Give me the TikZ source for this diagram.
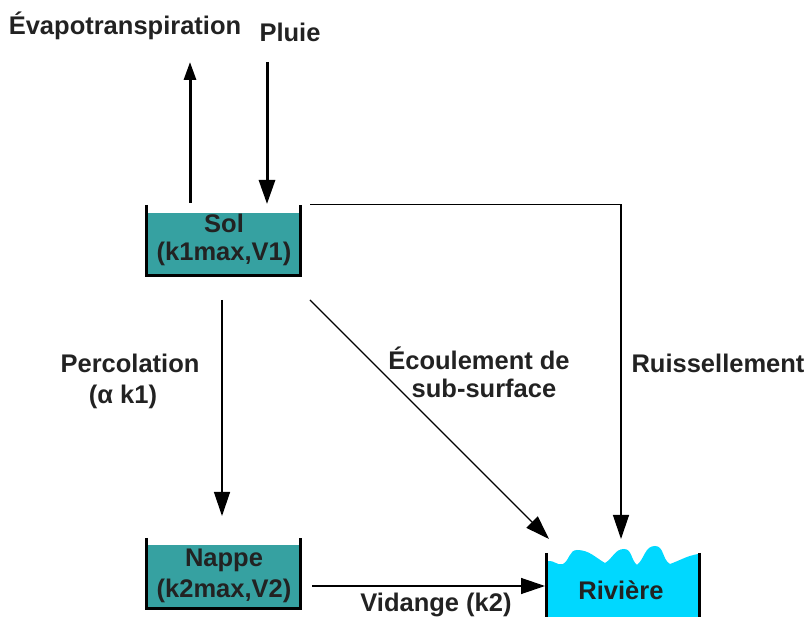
\documentclass[tikz,border=0pt]{standalone}
\usepackage{fontspec}
\setmainfont{Liberation Sans}
\usetikzlibrary{arrows.meta}
\definecolor{txt}{HTML}{222222}
\definecolor{teal2}{HTML}{36A1A1}
\definecolor{cyan2}{HTML}{00D8FF}
\begin{document}
\begin{tikzpicture}[x=1pt,y=-1pt,
  lbl/.style={font=\fontsize{25.5}{29}\selectfont\bfseries, text=txt, inner sep=0pt, anchor=base},
  wall/.style={line width=3pt, line cap=butt, line join=miter},
  thin/.style={line width=1.3pt, black},
  thick2/.style={line width=3pt, black},
  hd/.style={-{Triangle[length=24pt,width=16pt]}},
  hdsmall/.style={-{Triangle[length=18pt,width=12pt]}}]
\useasboundingbox (0,0) rectangle (807,617);

% Sol tank
\fill[teal2] (148,213) rectangle (299,274);
\draw[wall] (146.5,205) -- (146.5,275.5) -- (300.5,275.5) -- (300.5,205);
\node[lbl] (sol1) at (224,233) {Sol};
\node[lbl] (sol2) at (224,261) {(k1max,V1)};

% Nappe tank
\fill[teal2] (148,545) rectangle (299,607);
\draw[wall] (146.5,538) -- (146.5,608.5) -- (300.5,608.5) -- (300.5,538);
\node[lbl] (nap1) at (224,567) {Nappe};
\node[lbl] (nap2) at (224,598) {(k2max,V2)};

% Riviere tank
\fill[cyan2] (548,620) -- (548,561) to[out=10,in=200] (563,564)
  to[out=30,in=180] (577,550) to[out=0,in=150] (605,563)
  to[out=30,in=180] (624,549) to[out=0,in=140] (637,565)
  to[out=40,in=180] (655,546) to[out=0,in=150] (670,564)
  to[out=20,in=190] (698,554) -- (698,620) -- cycle;
\draw[wall] (546.5,553) -- (546.5,620);
\draw[wall] (699.5,553) -- (699.5,620);
\node[lbl] (riv) at (621,600) {Rivière};

% labels
\node[lbl] (evap) at (125,35) {Évapotranspiration};
\node[lbl] (pluie) at (290,42) {Pluie};
\node[lbl] (perc1) at (130,373) {Percolation};
\node[lbl] (perc2) at (123,404) {(α k1)};
\node[lbl] (ecou1) at (479,370) {Écoulement de};
\node[lbl] (ecou2) at (484,398) {sub-surface};
\node[lbl] (ruis) at (718,373) {Ruissellement};
\node[lbl] (vid) at (436,612) {Vidange (k2)};

% connector points
\coordinate (evA) at (190,203);
\coordinate (evB) at (190,62);
\coordinate (plA) at (267,62);
\coordinate (plB) at (267,204);
\coordinate (ruA) at (310,204.5);
\coordinate (ruC) at (621,204.5);
\coordinate (ruB) at (621,539);
\coordinate (peA) at (222,300);
\coordinate (peB) at (222,516);
\coordinate (ecA) at (310,300);
\coordinate (ecB) at (549,539);
\coordinate (viA) at (312,586);
\coordinate (viB) at (545,586);

\draw[thick2,hdsmall] (evA) -- (evB);
\draw[thick2,hd] (plA) -- (plB);
\draw[thin,hd] (ruA) -- (ruC) -- (ruB);
\draw[thin,hd] (peA) -- (peB);
\draw[thin,hd] (ecA) -- (ecB);
\draw[thin,hd] (viA) -- (viB);
\end{tikzpicture}
\end{document}
